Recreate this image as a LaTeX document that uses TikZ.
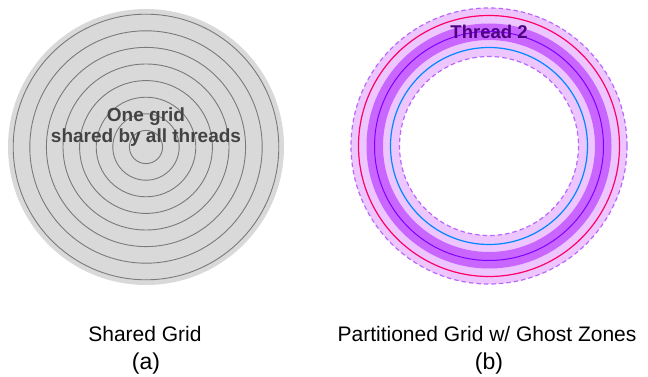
\documentclass[tikz,border=0pt]{standalone}
\usepackage{fontspec}
\setmainfont{Liberation Sans}
\definecolor{griddisc}{HTML}{D9D9D9}
\definecolor{gridline}{HTML}{7A7A7A}
\definecolor{gridtext}{HTML}{434343}
\definecolor{ghostlight}{HTML}{EDC6FF}
\definecolor{ghostedge}{HTML}{B866FF}
\definecolor{ownband}{HTML}{C966FF}
\definecolor{ownline}{HTML}{7F00FF}
\definecolor{outerline}{HTML}{FF0066}
\definecolor{innerline}{HTML}{0088FF}
\definecolor{threadtext}{HTML}{4C0080}

\begin{document}
\begin{tikzpicture}[x=1pt,y=-1pt,
  caption/.style={font=\fontsize{21}{24}\selectfont, anchor=base},
  tag/.style={font=\fontsize{23}{26}\selectfont, anchor=base},
  ghost/.style={draw=ghostedge, line width=1.2pt, dash pattern=on 4.5pt off 3pt}]
\useasboundingbox (0,0) rectangle (648,377);

% (a) shared grid
\fill[griddisc] (146,147) circle (138);
\foreach \k in {1,...,8}
  \draw[gridline, line width=0.9pt] (146,147) circle (16.6*\k);
\node[font=\bfseries\fontsize{19}{21}\selectfont, text=gridtext, align=center] (sharedtext) at (146,127) {One grid\\shared by all threads};

% (b) partitioned grid
\draw[ghost, fill=ghostlight] (489,146) circle (138);
\draw[outerline, line width=1.2pt] (489,146) circle (130.5);
\fill[ownband, even odd rule] (489,146) circle (122.5) (489,146) circle (106);
\draw[ownline, line width=1pt] (489,146) circle (114.5);
\draw[innerline, line width=1.2pt] (489,146) circle (98.5);
\draw[ghost, fill=white] (489,146) circle (89.5);
\node[font=\bfseries\fontsize{18.5}{21}\selectfont, text=threadtext] (threadtext) at (489,32) {Thread 2};

% captions
\node[caption] (capa) at (145,341) {Shared Grid};
\node[tag] (taga) at (146,369) {(a)};
\node[caption] (capb) at (487,341) {Partitioned Grid w/ Ghost Zones};
\node[tag] (tagb) at (489,369) {(b)};

\end{tikzpicture}
\end{document}
